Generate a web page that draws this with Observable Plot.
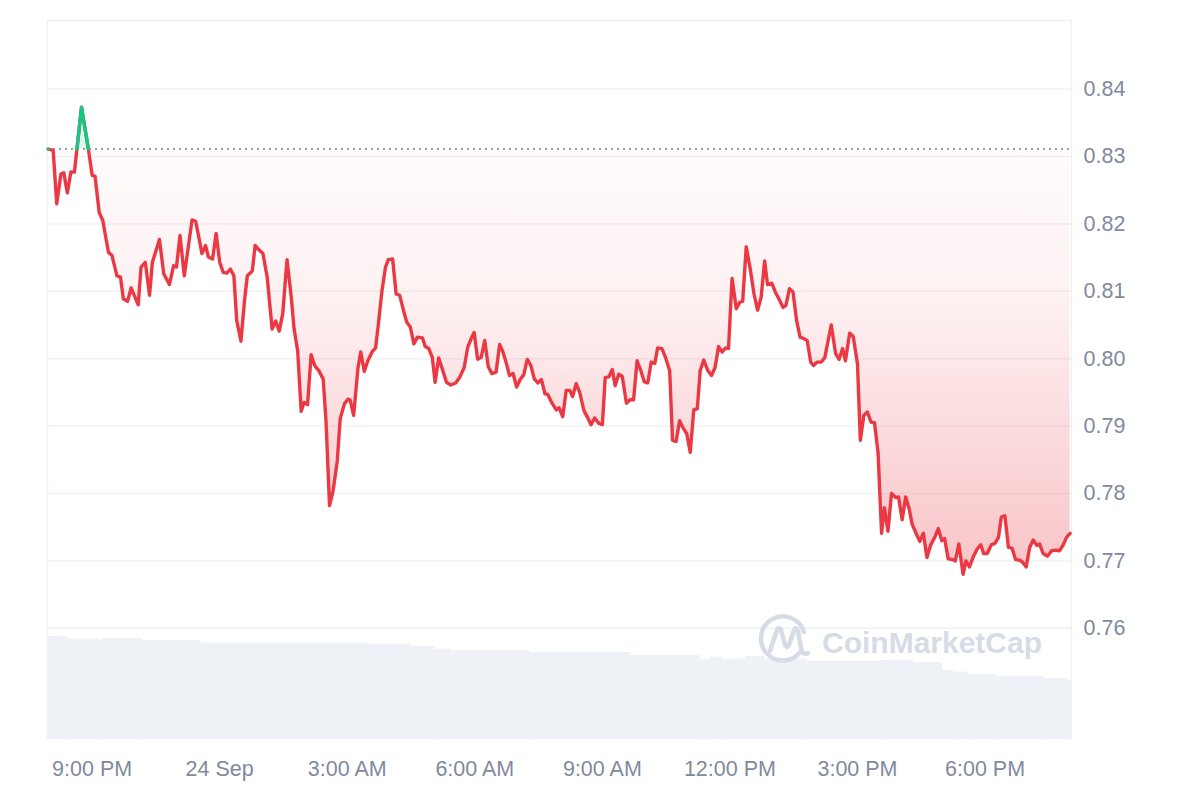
<!DOCTYPE html>
<html><head><meta charset="utf-8">
<script src="https://cdn.jsdelivr.net/npm/d3@7"></script>
<script src="https://cdn.jsdelivr.net/npm/@observablehq/plot@0.6"></script>
<style>
html,body{margin:0;padding:0;background:#fff;}
#wrap{position:relative;width:1200px;height:800px;overflow:hidden;}
#wrap > svg{position:absolute;left:0;top:0;}
</style></head><body><div id="wrap"></div>
<script>
// ---- data ----
const startTime = "2024-09-23 19:58";          // time of the first price point
const windowMinutes = [-1, 1444];              // visible window, minutes after startTime
const minutes = [0,7,12,18,22,27,32,37,47,57,62,66,72,77,85,90,97,102,106,112,117,127,131,137,143,147,157,163,171,177,181,186,192,203,208,212,217,222,226,232,237,242,247,252,257,262,266,272,277,281,288,292,297,303,309,316,321,326,331,337,343,347,352,357,361,366,371,376,382,388,392,397,402,408,412,418,423,426,431,437,441,446,451,457,462,466,471,476,480,486,491,496,502,506,511,516,521,528,532,537,542,546,551,556,562,568,575,581,587,592,597,601,606,611,616,621,626,632,637,641,646,651,656,661,666,671,676,681,686,691,696,701,705,711,717,721,726,731,736,740,745,750,756,761,766,771,777,782,786,791,796,800,805,810,816,821,826,831,837,841,846,851,856,860,866,871,877,881,886,891,896,901,906,911,916,920,925,931,936,941,946,951,956,960,965,971,976,980,985,991,996,1001,1006,1011,1015,1021,1026,1031,1037,1041,1046,1051,1056,1061,1066,1071,1076,1080,1085,1091,1096,1100,1105,1111,1116,1121,1125,1131,1136,1142,1146,1151,1156,1161,1166,1171,1176,1180,1185,1190,1196,1200,1205,1210,1215,1219,1225,1230,1235,1240,1245,1251,1256,1261,1265,1270,1276,1280,1285,1291,1295,1300,1305,1311,1316,1320,1325,1331,1336,1341,1345,1350,1355,1360,1365,1371,1375,1380,1385,1390,1395,1399,1404,1410,1416,1422,1427,1432,1437,1442];
const prices = [0.8311,0.8309,0.8230,0.8274,0.8276,0.8246,0.8277,0.8277,0.8373,0.8309,0.8272,0.8271,0.8217,0.8205,0.8158,0.8153,0.8123,0.8121,0.8089,0.8085,0.8105,0.8080,0.8136,0.8143,0.8094,0.8143,0.8177,0.8126,0.8110,0.8138,0.8136,0.8183,0.8123,0.8206,0.8204,0.8183,0.8156,0.8168,0.8151,0.8148,0.8186,0.8143,0.8128,0.8127,0.8133,0.8123,0.8057,0.8026,0.8086,0.8123,0.8130,0.8168,0.8162,0.8156,0.8121,0.8044,0.8056,0.8041,0.8067,0.8147,0.8091,0.8044,0.8012,0.7922,0.7935,0.7932,0.8006,0.7990,0.7982,0.7970,0.7908,0.7782,0.7804,0.7849,0.7911,0.7933,0.7940,0.7939,0.7916,0.7985,0.8010,0.7981,0.7997,0.8010,0.8016,0.8052,0.8101,0.8136,0.8147,0.8148,0.8096,0.8094,0.8069,0.8054,0.8047,0.8022,0.8032,0.8031,0.8018,0.8015,0.8002,0.7965,0.8001,0.7985,0.7965,0.7961,0.7964,0.7973,0.7987,0.8017,0.8030,0.8039,0.7999,0.8002,0.8027,0.7988,0.7978,0.7980,0.8021,0.8012,0.7995,0.7975,0.7978,0.7958,0.7969,0.7976,0.7999,0.7990,0.7970,0.7964,0.7969,0.7948,0.7947,0.7934,0.7924,0.7927,0.7914,0.7953,0.7953,0.7944,0.7963,0.7950,0.7923,0.7913,0.7902,0.7912,0.7904,0.7902,0.7972,0.7973,0.7984,0.7960,0.7977,0.7974,0.7934,0.7939,0.7939,0.7997,0.7980,0.7966,0.7964,0.7995,0.7993,0.8016,0.8015,0.8002,0.7982,0.7879,0.7877,0.7908,0.7897,0.7889,0.7861,0.7924,0.7926,0.7982,0.7998,0.7982,0.7975,0.7987,0.8018,0.8010,0.8016,0.8015,0.8119,0.8074,0.8084,0.8085,0.8166,0.8131,0.8096,0.8072,0.8091,0.8145,0.8110,0.8112,0.8099,0.8089,0.8076,0.8079,0.8104,0.8099,0.8057,0.8032,0.8030,0.8027,0.7995,0.7990,0.7995,0.7995,0.8002,0.8024,0.8050,0.8008,0.7999,0.8015,0.7997,0.8038,0.8033,0.7992,0.7879,0.7916,0.7921,0.7906,0.7905,0.7861,0.7741,0.7779,0.7744,0.7800,0.7794,0.7795,0.7761,0.7795,0.7777,0.7755,0.7740,0.7729,0.7741,0.7705,0.7723,0.7735,0.7748,0.7730,0.7733,0.7703,0.7702,0.7700,0.7725,0.7680,0.7700,0.7691,0.7705,0.7718,0.7724,0.7711,0.7711,0.7724,0.7726,0.7735,0.7765,0.7767,0.7720,0.7719,0.7702,0.7701,0.7698,0.7691,0.7720,0.7731,0.7723,0.7725,0.7711,0.7707,0.7715,0.7716,0.7715,0.7723,0.7735,0.7741];
// rolling 24h volume (arbitrary units), as steps starting at these minutes
const volStart = [-1,28,71,76,134,215,452,511,546,568,680,822,920,935,952,984,1012,1072,1175,1221,1262,1278,1299,1340,1405,1439];
const volume   = [51.0,49.7,49.2,49.9,48.9,47.7,47.0,46.0,44.7,44.0,43.0,41.5,39.4,40.7,39.7,41.0,39.7,38.7,39.0,38.0,34.0,33.2,32.0,31.0,29.9,29.0];
const yTicks = [0.76,0.77,0.78,0.79,0.80,0.81,0.82,0.83,0.84];
const yDomain = [0.74365, 0.85018];
const xTickTimes  = ["2024-09-23 21:00","2024-09-24 00:00","2024-09-24 03:00","2024-09-24 06:00","2024-09-24 09:00","2024-09-24 12:00","2024-09-24 15:00","2024-09-24 18:00"];
const xTickLabels = ["9:00 PM","24 Sep","3:00 AM","6:00 AM","9:00 AM","12:00 PM","3:00 PM","6:00 PM"];

// ---- build ----
const parse = d3.timeParse("%Y-%m-%d %H:%M");
const t0 = parse(startTime);
const at = m => new Date(+t0 + m * 60000);
const xDomain = windowMinutes.map(at);
const base = prices[0];
const data = minutes.map((m, i) => ({t: at(m), v: prices[i]}));

// series with baseline crossings inserted (geometry only)
const full = [], green = [];
for (let i = 0; i < data.length; i++) {
  const p = data[i], q = data[i + 1];
  full.push(p);
  green.push(p.v >= base ? p : {t: p.t, v: NaN});
  if (q && (p.v - base) * (q.v - base) < 0) {
    const f = (base - p.v) / (q.v - p.v);
    const c = {t: new Date(+p.t + f * (q.t - p.t)), v: base};
    full.push(c); green.push(c);
  }
}
const volData = volStart.map((s, i) => ({s: at(s), e: at(i + 1 < volStart.length ? volStart[i + 1] : windowMinutes[1]), vol: volume[i]}));
const tickDates = xTickTimes.map(parse);
const labelOf = new Map(tickDates.map((d, i) => [+d, xTickLabels[i]]));

const dims = {width: 1200, height: 800, marginLeft: 47, marginRight: 129, marginTop: 20, marginBottom: 62};
const font = "'Liberation Sans', Arial, Helvetica, sans-serif";

const volPlot = Plot.plot({
  ...dims,
  style: {background: "transparent"},
  x: {type: "time", domain: xDomain, axis: null},
  y: {domain: [0, 359], axis: null},
  marks: [Plot.rectY(volData, {x1: "s", x2: "e", y: "vol", fill: "#eef1f5"})]
});

const main = Plot.plot({
  ...dims,
  style: {background: "transparent", fontFamily: font, fontSize: "21.5px", color: "#808a9d", overflow: "visible"},
  x: {type: "time", domain: xDomain, ticks: tickDates, tickFormat: d => labelOf.get(+d), tickSize: 0, tickPadding: 22, label: null},
  y: {domain: yDomain, axis: "right", ticks: yTicks, tickFormat: d => d.toFixed(2), tickSize: 0, tickPadding: 12, label: null},
  marks: [
    Plot.ruleY(yTicks, {stroke: "#eff2f5", strokeWidth: 1.5}),
    Plot.frame({stroke: "#eff2f5", strokeWidth: 1.5}),
    Plot.areaY(full, {x: "t", y1: () => base, y2: d => Math.min(d.v, base), fill: "url(#redGrad)"}),
    Plot.areaY(full, {x: "t", y1: () => base, y2: d => Math.max(d.v, base), fill: "#16c784", fillOpacity: 0.15}),
    Plot.ruleY([base], {stroke: "#979eb2", strokeWidth: 2, strokeDasharray: "2 4"}),
    Plot.line(data, {x: "t", y: "v", stroke: "#ea3943", strokeWidth: 3.4, strokeLinejoin: "round", strokeLinecap: "round"}),
    Plot.line(green, {x: "t", y: "v", stroke: "#16c784", strokeWidth: 3.4, strokeLinejoin: "round", strokeLinecap: "round"})
  ]
});
const defs = document.createElementNS("http://www.w3.org/2000/svg", "defs");
defs.innerHTML = '<linearGradient id="redGrad" x1="0" y1="0" x2="0" y2="1"><stop offset="0" stop-color="#ea3943" stop-opacity="0.02"/><stop offset="0.35" stop-color="#ea3943" stop-opacity="0.07"/><stop offset="1" stop-color="#ea3943" stop-opacity="0.30"/></linearGradient>';
main.insertBefore(defs, main.firstChild);

const wrap = document.getElementById("wrap");
wrap.appendChild(volPlot);
wrap.appendChild(main);

// watermark
const wm = document.createElementNS("http://www.w3.org/2000/svg", "svg");
wm.setAttribute("width", 1200); wm.setAttribute("height", 800);
wm.style.pointerEvents = "none";
wm.innerHTML = `
  <g fill="none" stroke="#d6dce6" stroke-width="4.5" stroke-linecap="round" stroke-linejoin="round">
    <path d="M801 651 A22 22 0 1 1 804 632"/>
    <path d="M770 651 L777 630 Q779 626 781 630 L785 645 Q787 649 789 645 L794 630 Q796 626 798 631 L801 648 Q803 656 808 653"/>
  </g>
  <text x="822" y="653" font-family="${font}" font-weight="700" font-size="30" fill="#d6dce6">CoinMarketCap</text>`;
wrap.appendChild(wm);
</script></body></html>
